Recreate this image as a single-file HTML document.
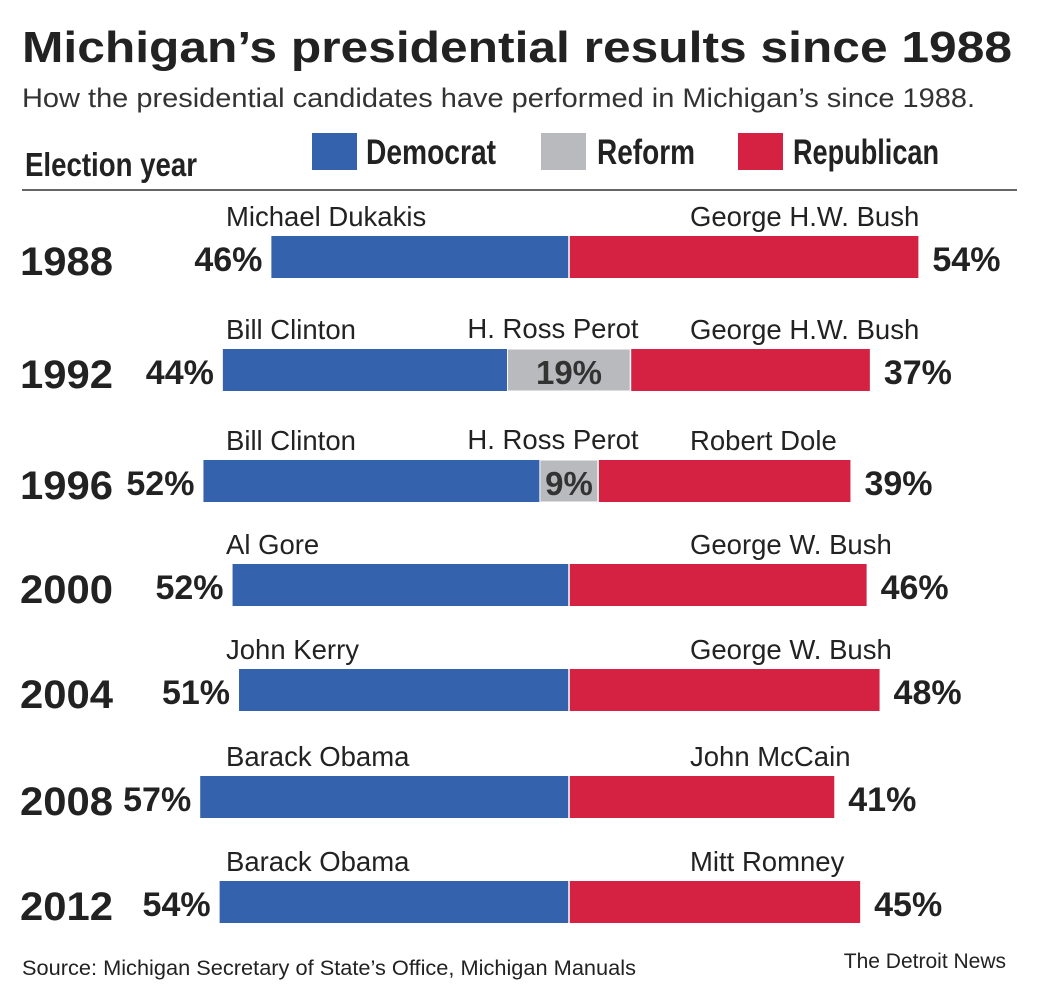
<!DOCTYPE html>
<html><head><meta charset="utf-8"><style>
html,body{margin:0;padding:0;background:#fff;}
svg{display:block;font-family:"Liberation Sans",sans-serif;}
</style></head><body>
<svg id="chart" width="1040" height="1000" viewBox="0 0 1040 1000">
<text x="22" y="62" font-size="44" font-weight="bold" fill="#222" textLength="990" lengthAdjust="spacingAndGlyphs">Michigan’s presidential results since 1988</text>
<text x="22" y="107" font-size="27" fill="#333" textLength="953" lengthAdjust="spacingAndGlyphs">How the presidential candidates have performed in Michigan’s since 1988.</text>
<text x="25" y="176" font-size="33" font-weight="bold" fill="#222" textLength="172" lengthAdjust="spacingAndGlyphs">Election year</text>
<g>
<rect x="312" y="133" width="45" height="37" fill="#3462ad"/>
<text x="366" y="164" font-size="35" font-weight="bold" fill="#222" textLength="130" lengthAdjust="spacingAndGlyphs">Democrat</text>
<rect x="541" y="133" width="45" height="37" fill="#b9babd"/>
<text x="597" y="164" font-size="35" font-weight="bold" fill="#222" textLength="98" lengthAdjust="spacingAndGlyphs">Reform</text>
<rect x="738" y="133" width="45" height="37" fill="#d62242"/>
<text x="793" y="164" font-size="35" font-weight="bold" fill="#222" textLength="146" lengthAdjust="spacingAndGlyphs">Republican</text>
</g>
<line x1="22" y1="190" x2="1017" y2="190" stroke="#333" stroke-width="1.5"/>
<g id="rows"></g>
<text x="22" y="975" font-size="21" fill="#222" textLength="614" lengthAdjust="spacingAndGlyphs">Source: Michigan Secretary of State’s Office, Michigan Manuals</text>
<text x="1006" y="968" font-size="21" fill="#222" text-anchor="end">The Detroit News</text>
</svg>
<script>
const years = ["1988","1992","1996","2000","2004","2008","2012"];
const demValues = [46,44,52,52,51,57,54];
const refValues = [0,19,9,0,0,0,0];
const repValues = [54,37,39,46,48,41,45];
const demNames = ["Michael Dukakis","Bill Clinton","Bill Clinton","Al Gore","John Kerry","Barack Obama","Barack Obama"];
const refNames = ["","H. Ross Perot","H. Ross Perot","","","",""];
const repNames = ["George H.W. Bush","George H.W. Bush","Robert Dole","George W. Bush","George W. Bush","John McCain","Mitt Romney"];

const NS="http://www.w3.org/2000/svg";
const g=document.getElementById('rows');
const cx=569, k=6.47, barH=42;
const rowTops=[236,349,460,564,669,776,881];
function xs(v){return v*k;}
function mk(tag,attrs,txt){const e=document.createElementNS(NS,tag);for(const a in attrs)e.setAttribute(a,attrs[a]);if(txt!==undefined)e.textContent=txt;g.appendChild(e);return e;}
years.forEach((yr,i)=>{
  const y=rowTops[i];
  const r=refValues[i];
  const refStart=cx-xs(r)/2;
  const demStart=refStart-xs(demValues[i]);
  const repStart=refStart+xs(r);
  const repEnd=repStart+xs(repValues[i]);
  let e=mk('text',{x:20,y:y+39,'font-size':40,'font-weight':'bold',fill:'#222',textLength:93,lengthAdjust:'spacingAndGlyphs'},yr);
  
  
  e=mk('rect',{x:demStart,y:y,width:xs(demValues[i]),height:barH,fill:'#3462ad'});
  
  
  if(r>0){
    e=mk('rect',{x:refStart,y:y,width:xs(r),height:barH,fill:'#b9babd',stroke:'#fff','stroke-width':1});
    
    
    e=mk('text',{x:cx,y:y+35,'font-size':33,'font-weight':'bold',fill:'#333','text-anchor':'middle'},r+'%');
    
    
    e=mk('text',{x:553,y:y-11,'font-size':27.5,fill:'#222','text-anchor':'middle'},refNames[i]);
    
    
  }
  e=mk('rect',{x:repStart,y:y,width:xs(repValues[i]),height:barH,fill:'#d62242'});
  
  
  mk('line',{x1:repStart,y1:y,x2:repStart,y2:y+barH,stroke:'#fff','stroke-width':1.5});
  e=mk('text',{x:demStart-9,y:y+35,'font-size':34,'font-weight':'bold',fill:'#222','text-anchor':'end'},demValues[i]+'%');
  
  
  e=mk('text',{x:repEnd+14,y:y+35,'font-size':34,'font-weight':'bold',fill:'#222'},repValues[i]+'%');
  
  
  e=mk('text',{x:226,y:y-10,'font-size':27.5,fill:'#222'},demNames[i]);
  
  
  e=mk('text',{x:690,y:y-10,'font-size':27.5,fill:'#222'},repNames[i]);
  
  
});
</script>
</body></html>
